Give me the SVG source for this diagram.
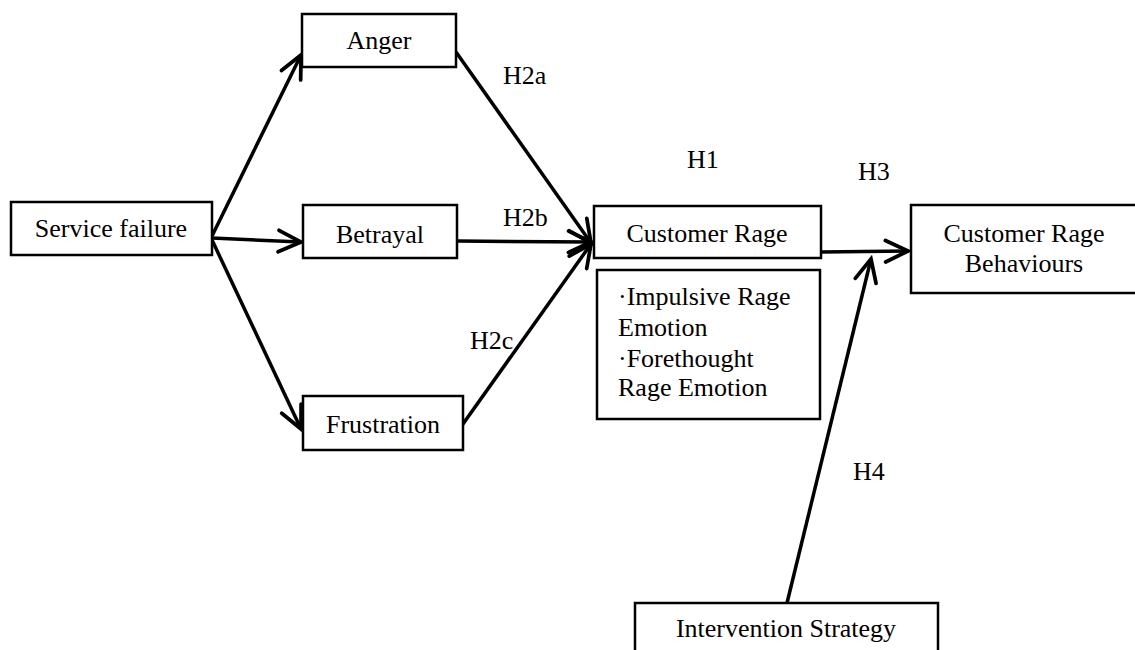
<svg xmlns="http://www.w3.org/2000/svg" width="1135" height="650" viewBox="0 0 1135 650">
<style>
.box{fill:#fff;stroke:#000;stroke-width:2.5}
.t{font-family:"Liberation Serif","Times New Roman",serif;font-size:26px;fill:#000}
.c{text-anchor:middle}
.ln{fill:none;stroke:#000;stroke-width:3.5}
</style>
<defs>
<marker id="arr" markerUnits="userSpaceOnUse" markerWidth="30" markerHeight="30" viewBox="-24 -14 28 28" refX="0" refY="0" orient="auto">
<path d="M-21,-10 L0,0 L-21,10" fill="none" stroke="#000" stroke-width="3.5" stroke-linecap="round" stroke-linejoin="miter"/>
</marker>
</defs>
<rect width="1135" height="650" fill="#fff"/>
<g id="connectors">
<line class="ln" x1="212" y1="236" x2="301" y2="55" marker-end="url(#arr)"/>
<line class="ln" x1="212" y1="238" x2="301" y2="242" marker-end="url(#arr)"/>
<line class="ln" x1="212" y1="240" x2="301" y2="429" marker-end="url(#arr)"/>
<line class="ln" x1="456" y1="52" x2="591" y2="243" marker-end="url(#arr)"/>
<line class="ln" x1="457" y1="241" x2="591" y2="242" marker-end="url(#arr)"/>
<line class="ln" x1="458" y1="431" x2="591" y2="244" marker-end="url(#arr)"/>
<line class="ln" x1="821" y1="252" x2="908" y2="251" marker-end="url(#arr)"/>
<line class="ln" x1="787" y1="603" x2="871" y2="259" marker-end="url(#arr)"/>
</g>
<g id="labels">
<text class="t" x="503" y="84">H2a</text>
<text class="t" x="503" y="226">H2b</text>
<text class="t" x="470" y="349">H2c</text>
<text class="t" x="687" y="168">H1</text>
<text class="t" x="858" y="180">H3</text>
<text class="t" x="853" y="480">H4</text>
</g>
<g id="service-failure">
<rect class="box" x="11" y="202" width="201" height="53"/>
<text class="t c" x="111" y="237">Service failure</text>
</g>
<g id="anger">
<rect class="box" x="302" y="14" width="154" height="53"/>
<text class="t c" x="379" y="49">Anger</text>
</g>
<g id="betrayal">
<rect class="box" x="303" y="205" width="154" height="53"/>
<text class="t c" x="380" y="243">Betrayal</text>
</g>
<g id="frustration">
<rect class="box" x="303" y="396" width="160" height="54"/>
<text class="t c" x="383" y="433">Frustration</text>
</g>
<g id="customer-rage">
<rect class="box" x="594" y="206" width="227" height="52"/>
<text class="t c" x="707" y="242">Customer Rage</text>
</g>
<g id="rage-types">
<rect class="box" x="597" y="270" width="223" height="149"/>
<text class="t" x="618" y="305">·Impulsive Rage</text>
<text class="t" x="618" y="336">Emotion</text>
<text class="t" x="618" y="367">·Forethought</text>
<text class="t" x="618" y="396">Rage Emotion</text>
</g>
<g id="customer-rage-behaviours">
<rect class="box" x="911" y="205" width="228" height="88"/>
<text class="t c" x="1024" y="242">Customer Rage</text>
<text class="t c" x="1024" y="272">Behaviours</text>
</g>
<g id="intervention-strategy">
<rect class="box" x="635" y="603" width="303" height="70"/>
<text class="t c" x="786" y="637">Intervention Strategy</text>
</g>
</svg>
